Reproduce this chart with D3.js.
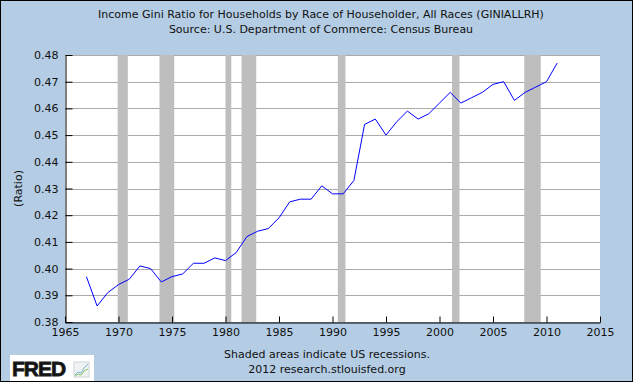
<!DOCTYPE html>
<html>
<head>
<meta charset="utf-8">
<script src="https://cdn.jsdelivr.net/npm/d3@7"></script>
<style>
  body { margin: 0; background: #fff; }
  text { font-family: "DejaVu Sans", Verdana, sans-serif; fill: #111; }
</style>
</head>
<body>
<div id="chart"></div>
<script>
// Income Gini ratio, all races (GINIALLRH), annual
var years = [1967, 1968, 1969, 1970, 1971, 1972, 1973, 1974, 1975, 1976,
             1977, 1978, 1979, 1980, 1981, 1982, 1983, 1984, 1985, 1986,
             1987, 1988, 1989, 1990, 1991, 1992, 1993, 1994, 1995, 1996,
             1997, 1998, 1999, 2000, 2001, 2002, 2003, 2004, 2005, 2006,
             2007, 2008, 2009, 2010, 2011];
var gini = [0.397, 0.386, 0.391, 0.394, 0.396, 0.401, 0.400, 0.395, 0.397, 0.398,
            0.402, 0.402, 0.404, 0.403, 0.406, 0.412, 0.414, 0.415, 0.419, 0.425,
            0.426, 0.426, 0.431, 0.428, 0.428, 0.433, 0.454, 0.456, 0.450, 0.455,
            0.459, 0.456, 0.458, 0.462, 0.466, 0.462, 0.464, 0.466, 0.469, 0.470,
            0.463, 0.466, 0.468, 0.470, 0.477];

// US recessions (start, end) as decimal years
var recessionStart = [1969.92, 1973.83, 1980.00, 1981.50, 1990.50, 2001.17, 2007.92];
var recessionEnd   = [1970.87, 1975.21, 1980.54, 1982.87, 1991.21, 2001.87, 2009.46];

var xTicks = [1965, 1970, 1975, 1980, 1985, 1990, 1995, 2000, 2005, 2010, 2015];
var yTicks = [0.38, 0.39, 0.40, 0.41, 0.42, 0.43, 0.44, 0.45, 0.46, 0.47, 0.48];

var W = 637, H = 385;
var plot = {left: 65, right: 600, top: 55, bottom: 322};
var fs = "11px";

var svg = d3.select("#chart").append("svg")
    .attr("width", W)
    .attr("height", H);

// blue frame with black border
svg.append("rect")
    .attr("x", 0.5).attr("y", 0.5)
    .attr("width", 632).attr("height", 381)
    .attr("fill", "#b4cde4")
    .attr("stroke", "#000");

// titles
svg.append("text")
    .attr("x", 321).attr("y", 18)
    .attr("text-anchor", "middle")
    .style("font-size", fs)
    .text("Income Gini Ratio for Households by Race of Householder, All Races (GINIALLRH)");
svg.append("text")
    .attr("x", 321).attr("y", 33)
    .attr("text-anchor", "middle")
    .style("font-size", fs)
    .text("Source: U.S. Department of Commerce: Census Bureau");

var x = d3.scaleLinear().domain([1965, 2015]).range([plot.left, plot.right]);
var y = d3.scaleLinear().domain([0.38, 0.48]).range([plot.bottom, plot.top]);

// plot background
svg.append("rect")
    .attr("x", plot.left).attr("y", plot.top)
    .attr("width", plot.right - plot.left)
    .attr("height", plot.bottom - plot.top)
    .attr("fill", "#fff");

// gridlines
svg.append("g")
  .selectAll("line")
  .data(yTicks)
  .enter().append("line")
    .attr("x1", plot.left).attr("x2", plot.right)
    .attr("y1", function(d) { return Math.round(y(d)) + 0.5; })
    .attr("y2", function(d) { return Math.round(y(d)) + 0.5; })
    .attr("stroke", "#aaaaaa");

// recession bars
svg.append("g")
  .selectAll("rect")
  .data(recessionStart)
  .enter().append("rect")
    .attr("x", function(d) { return x(d); })
    .attr("y", plot.top)
    .attr("width", function(d, i) { return x(recessionEnd[i]) - x(d); })
    .attr("height", plot.bottom - plot.top)
    .attr("fill", "#bebebe");

// data line
var line = d3.line()
    .x(function(d, i) { return x(years[i]); })
    .y(function(d) { return y(d); });
svg.append("path")
    .datum(gini)
    .attr("d", line)
    .attr("fill", "none")
    .attr("stroke", "#0000ff")
    .attr("stroke-width", 1);

// axes
var yAxis = svg.append("g")
    .attr("transform", "translate(" + (plot.left + 0.5) + ",0)")
    .call(d3.axisLeft(y).tickValues(yTicks).tickFormat(d3.format(".2f"))
      .tickSizeInner(-7).tickSizeOuter(0).tickPadding(7));
yAxis.selectAll("text").style("font-size", fs).attr("fill", "#111");

var xAxis = svg.append("g")
    .attr("transform", "translate(0," + (plot.bottom + 0.5) + ")")
    .call(d3.axisBottom(x).tickValues(xTicks).tickFormat(d3.format("d"))
      .tickSizeInner(-6).tickSizeOuter(0).tickPadding(6));
xAxis.selectAll("text").style("font-size", fs).attr("fill", "#111");

svg.selectAll(".domain").attr("stroke", "#000");
svg.selectAll(".tick line").attr("stroke", "#000");

// y axis title
svg.append("text")
    .attr("transform", "translate(22," + ((plot.top + plot.bottom) / 2) + ") rotate(-90)")
    .attr("text-anchor", "middle")
    .style("font-size", fs)
    .text("(Ratio)");

// footer
svg.append("text")
    .attr("x", 327).attr("y", 358)
    .attr("text-anchor", "middle")
    .style("font-size", fs)
    .text("Shaded areas indicate US recessions.");
svg.append("text")
    .attr("x", 327).attr("y", 373)
    .attr("text-anchor", "middle")
    .style("font-size", fs)
    .text("2012 research.stlouisfed.org");

// FRED logo
var logo = svg.append("g").attr("transform", "translate(10,355)");
logo.append("rect").attr("width", 84).attr("height", 26).attr("fill", "#fff");
logo.append("text")
    .attr("x", 2).attr("y", 21)
    .style("font-family", "'Liberation Sans', Arial, sans-serif")
    .style("font-weight", "900")
    .style("font-size", "21px")
    .style("letter-spacing", "-1px")
    .style("stroke", "#222").style("stroke-width", "0.8px")
    .attr("fill", "#222")
    .text("FRED");
logo.append("rect").attr("x", 64).attr("y", 7).attr("width", 15).attr("height", 15)
    .attr("fill", "#eef2f2").attr("stroke", "#cfd6d6");
logo.append("polyline").attr("points", "65,20 68,17 71,18 74,13 78,9")
    .attr("fill", "none").attr("stroke", "#7fb5d8").attr("stroke-width", 1);
logo.append("polyline").attr("points", "65,21 68,19 71,20 74,16 78,14")
    .attr("fill", "none").attr("stroke", "#8cc063").attr("stroke-width", 1);
</script>
</body>
</html>
